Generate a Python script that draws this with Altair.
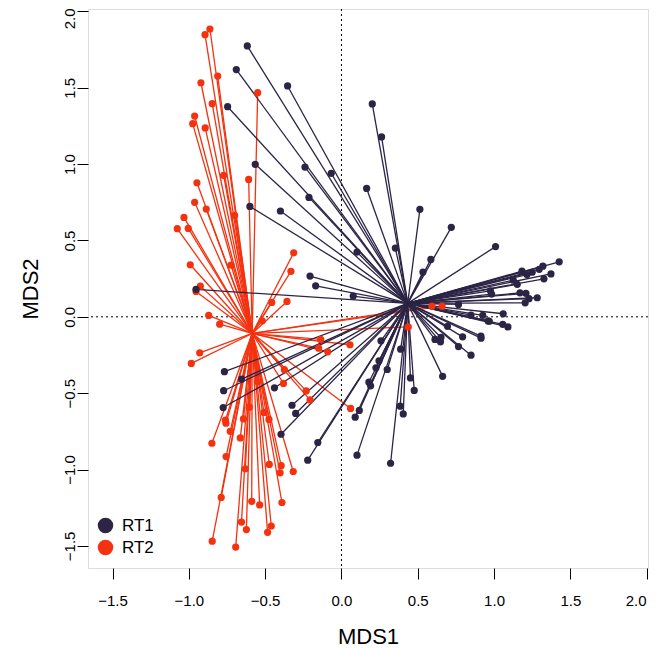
import altair as alt
import pandas as pd

# ---- data (MDS scores) ----
rt1_x = [-0.617, -0.689, -0.746, -0.565, -0.353, -0.600, -0.400, -0.953, -0.767, 0.165,
         -0.213, 0.514, 0.720, 0.353, 0.102, 0.586, 0.534, -0.206, -0.169, 0.077,
         0.767, 0.849, 0.695, 0.794, 0.613, 0.652, 0.649, 0.767, 0.849, 0.259,
         0.388, 0.246, 0.226, 0.300, 0.452, 0.663, 0.180, 0.191, 0.477, 0.385,
         0.405, 0.117, 0.090, 0.102, 0.322, -0.324, -0.300, -0.396, -0.155, -0.221,
         -0.654, -0.772, -0.439, -0.775, 1.010, 1.427, 1.320, 1.296, 1.373, 1.250,
         1.183, 1.216, 1.327, 1.126, 1.152, 0.976, 0.984, 1.170, 1.209, 1.283,
         1.229, 1.204, 1.060, 0.926, 0.961, 0.969, 1.057, 1.091, 0.914, 0.915,
         0.202, 0.263, -0.239, -0.067]
rt1_y = [1.774, 1.619, 1.376, 0.999, 1.512, 0.723, 0.693, 0.180, -0.359, 0.841,
         0.782, 0.704, 0.586, 0.450, 0.424, 0.376, 0.293, 0.267, 0.203, 0.136,
         0.081, 0.011, -0.062, -0.131, -0.148, -0.135, -0.164, -0.195, -0.251, -0.157,
         -0.212, -0.288, -0.334, -0.345, -0.400, -0.390, -0.428, -0.452, -0.482, -0.585,
         -0.636, -0.613, -0.657, -0.906, -0.959, -0.579, -0.633, -0.769, -0.823, -0.939,
         -0.408, -0.484, -0.465, -0.594, 0.460, 0.360, 0.332, 0.311, 0.281, 0.292,
         0.299, 0.277, 0.249, 0.240, 0.213, 0.170, 0.149, 0.157, 0.154, 0.125,
         0.119, 0.092, 0.020, 0.010, -0.027, -0.029, -0.049, -0.066, -0.126, -0.140,
         1.394, 1.178, 0.981, 0.940]

rt2_x = [-0.862, -0.894, -0.811, -0.921, -0.549, -0.847, -0.962, -0.975, -0.893, -0.772,
         -0.608, -0.947, -0.962, -0.886, -1.032, -1.076, -1.004, -0.700, -0.991, -0.724,
         -0.925, -0.953, -0.870, -0.798, -0.929, -0.984, -0.457, -0.519, -0.313, -0.331,
         -0.357, 0.438, -0.136, -0.149, -0.090, 0.056, -0.374, 0.593, 0.659, -0.380,
         -0.231, -0.206, 0.060, -0.549, -0.604, -0.508, -0.760, -0.757, -0.642, -0.475,
         -0.729, -0.663, -0.849, -0.756, -0.630, -0.473, -0.395, -0.402, -0.316, -0.788,
         -0.588, -0.536, -0.390, -0.655, -0.623, -0.460, -0.484, -0.847, -0.693]
rt2_y = [1.885, 1.848, 1.577, 1.533, 1.468, 1.396, 1.315, 1.265, 1.237, 0.927,
         0.900, 0.878, 0.750, 0.706, 0.651, 0.577, 0.579, 0.664, 0.341, 0.339,
         0.201, 0.166, 0.009, -0.048, -0.236, -0.305, 0.094, -0.026, 0.419, 0.298,
         0.101, -0.066, -0.148, -0.205, -0.229, -0.183, -0.346, 0.070, 0.070, -0.436,
         -0.485, -0.544, -0.600, -0.423, -0.592, -0.626, -0.677, -0.697, -0.669, -0.672,
         -0.750, -0.793, -0.828, -0.915, -0.995, -0.967, -0.975, -1.022, -1.013, -1.183,
         -1.208, -1.232, -1.216, -1.344, -1.393, -1.370, -1.411, -1.469, -1.508]

# group centroids (spider centres)
centre_rt1 = [0.434, 0.088]
centre_rt2 = [-0.585, -0.109]

groups = ["RT1", "RT2"]
colours = ["#2c2445", "#f4320f"]
x_ticks = [-1.5, -1.0, -0.5, 0.0, 0.5, 1.0, 1.5, 2.0]
y_ticks = [-1.5, -1.0, -0.5, 0.0, 0.5, 1.0, 1.5, 2.0]

rows = []
for gx, gy, c, g in [(rt2_x, rt2_y, centre_rt2, "RT2"), (rt1_x, rt1_y, centre_rt1, "RT1")]:
    for a, b in zip(gx, gy):
        rows.append({"group": g, "x": a, "y": b, "cx": c[0], "cy": c[1]})
df = pd.DataFrame(rows)

FONT = "Liberation Sans"
xs = alt.Scale(domain=[-1.661, 2.009], nice=False, zero=False)
ys = alt.Scale(domain=[-1.645, 2.016], nice=False, zero=False)
xaxis = alt.Axis(values=x_ticks, format=".1f", title="MDS1", grid=False, domain=False,
                 tickSize=11, tickColor="black", labelFontSize=15, labelColor="black",
                 labelPadding=14, titleFontSize=22, titleFontWeight="normal",
                 titleColor="black", titlePadding=18, labelFont=FONT, titleFont=FONT,
                 labelOffset={"expr": "datum.value >= 2 ? -11 : 0"})
yaxis = alt.Axis(values=y_ticks, format=".1f", title="MDS2", grid=False, domain=False,
                 tickSize=11, tickColor="black", labelFontSize=15, labelColor="black",
                 labelPadding=0, labelAngle=270, labelAlign="center", labelBaseline="bottom",
                 titleFontSize=22, titleFontWeight="normal", titleColor="black",
                 titlePadding=20, labelFont=FONT, titleFont=FONT,
                 labelOffset={"expr": "datum.value >= 2 ? 7 : 0"})

def X():
    return alt.X("x:Q", scale=xs, axis=xaxis)

def Y():
    return alt.Y("y:Q", scale=ys, axis=yaxis)

cscale = alt.Scale(domain=groups, range=colours)

vline = alt.Chart(pd.DataFrame({"x": [0.0]})).mark_rule(
    color="black", strokeWidth=1, strokeDash=[2, 3]).encode(x=X())
hline = alt.Chart(pd.DataFrame({"y": [0.0]})).mark_rule(
    color="black", strokeWidth=1, strokeDash=[2, 3]).encode(y=Y())

spokes = alt.Chart(df).mark_rule(strokeWidth=1.3).encode(
    x=X(), y=Y(), x2="cx:Q", y2="cy:Q",
    stroke=alt.Stroke("group:N", scale=cscale, legend=None),
)

points = alt.Chart(df).mark_circle(size=52, opacity=1).encode(
    x=X(), y=Y(),
    fill=alt.Fill("group:N", scale=cscale,
                  legend=alt.Legend(title=None, orient="none", legendX=9, legendY=508,
                                    symbolType="circle", symbolSize=240,
                                    symbolStrokeWidth=0, symbolOpacity=1,
                                    labelFontSize=17, labelFont=FONT, labelColor="black",
                                    rowPadding=4, padding=0, labelOffset=8)),
)

chart = alt.layer(vline, hline, spokes, points).resolve_scale(
    fill="independent", stroke="independent"
).properties(
    width=560, height=559,
    autosize=alt.AutoSizeParams(type="none"),
    padding={"left": 80, "top": 1, "right": 1, "bottom": 81},
).configure_view(stroke="black", strokeWidth=1.2).configure(background="white")

chart.save("out.html", embed_options={"renderer": "svg", "actions": False})
